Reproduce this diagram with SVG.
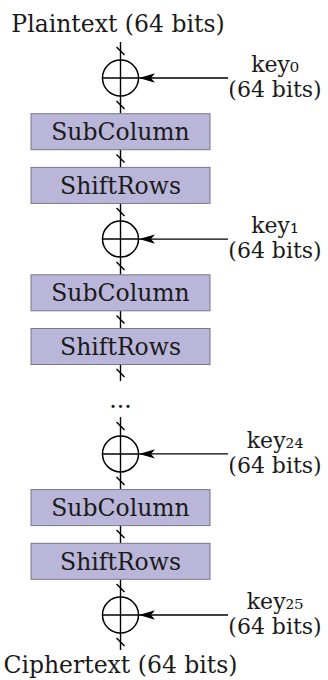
<svg xmlns="http://www.w3.org/2000/svg" width="328" height="680" viewBox="0 0 328 680">
<defs>
<style>
text{font-family:"DejaVu Serif","Liberation Serif",serif;font-size:23.5px;fill:#1a1a1a}
.k{font-size:22px}
.box{fill:#bab6d9;stroke:#77778a;stroke-width:1}
.ln{stroke:#000;stroke-width:1.4;fill:none}
.xor{stroke:#000;stroke-width:1.5;fill:none}
.tk{stroke:#000;stroke-width:1.4}
</style>
<marker id="ah" viewBox="0 0 16 10" markerWidth="16" markerHeight="10" refX="16" refY="5" orient="auto" markerUnits="userSpaceOnUse">
<path d="M16,5 L0,0.3 L4,5 L0,9.7 Z" fill="#000"/>
</marker>
</defs>
<g id="connectors">
<line class="ln" x1="120.5" y1="42" x2="120.5" y2="113.7"/>
<line class="ln" x1="120.5" y1="149.7" x2="120.5" y2="167.4"/>
<line class="ln" x1="120.5" y1="203.4" x2="120.5" y2="274.8"/>
<line class="ln" x1="120.5" y1="310.8" x2="120.5" y2="328.5"/>
<line class="ln" x1="120.5" y1="364.5" x2="120.5" y2="381"/>
<line class="ln" x1="120.5" y1="417" x2="120.5" y2="489.6"/>
<line class="ln" x1="120.5" y1="525.6" x2="120.5" y2="543.3"/>
<line class="ln" x1="120.5" y1="579.3" x2="120.5" y2="650"/>
<g class="tk">
<line x1="116.5" y1="47" x2="124.5" y2="55"/>
<line x1="116.5" y1="101" x2="124.5" y2="109"/>
<line x1="116.5" y1="154.5" x2="124.5" y2="162.5"/>
<line x1="116.5" y1="208" x2="124.5" y2="216"/>
<line x1="116.5" y1="262" x2="124.5" y2="270"/>
<line x1="116.5" y1="315.6" x2="124.5" y2="323.6"/>
<line x1="116.5" y1="369" x2="124.5" y2="377"/>
<line x1="116.5" y1="422" x2="124.5" y2="430"/>
<line x1="116.5" y1="477" x2="124.5" y2="485"/>
<line x1="116.5" y1="530" x2="124.5" y2="538"/>
<line x1="116.5" y1="584" x2="124.5" y2="592"/>
<line x1="116.5" y1="638" x2="124.5" y2="646"/>
</g>
<line class="ln" x1="228" y1="78" x2="139" y2="78" marker-end="url(#ah)"/>
<line class="ln" x1="228" y1="239.1" x2="139" y2="239.1" marker-end="url(#ah)"/>
<line class="ln" x1="228" y1="453.9" x2="139" y2="453.9" marker-end="url(#ah)"/>
<line class="ln" x1="228" y1="615" x2="139" y2="615" marker-end="url(#ah)"/>
</g>
<g id="plaintext"><text x="118" y="32" text-anchor="middle">Plaintext (64 bits)</text></g>
<g id="xor0"><circle class="xor" cx="120.5" cy="78" r="18"/><line class="xor" x1="102.5" y1="78" x2="138.5" y2="78"/></g>
<g id="key0"><text class="k" x="275" y="72" text-anchor="middle">key₀</text><text class="k" x="275" y="97" text-anchor="middle">(64 bits)</text></g>
<g id="subcolumn1"><rect class="box" x="31" y="113.7" width="179" height="36"/><text x="120.5" y="139.5" text-anchor="middle">SubColumn</text></g>
<g id="shiftrows1"><rect class="box" x="31" y="167.4" width="179" height="36"/><text x="120.5" y="193.5" text-anchor="middle">ShiftRows</text></g>
<g id="xor1"><circle class="xor" cx="120.5" cy="239.1" r="18"/><line class="xor" x1="102.5" y1="239.1" x2="138.5" y2="239.1"/></g>
<g id="key1"><text class="k" x="275" y="233" text-anchor="middle">key₁</text><text class="k" x="275" y="258" text-anchor="middle">(64 bits)</text></g>
<g id="subcolumn2"><rect class="box" x="31" y="274.8" width="179" height="36"/><text x="120.5" y="300.5" text-anchor="middle">SubColumn</text></g>
<g id="shiftrows2"><rect class="box" x="31" y="328.5" width="179" height="36"/><text x="120.5" y="354.5" text-anchor="middle">ShiftRows</text></g>
<g id="dots"><text x="120.5" y="408" text-anchor="middle">...</text></g>
<g id="xor24"><circle class="xor" cx="120.5" cy="453.9" r="18"/><line class="xor" x1="102.5" y1="453.9" x2="138.5" y2="453.9"/></g>
<g id="key24"><text class="k" x="275" y="448" text-anchor="middle">key₂₄</text><text class="k" x="275" y="473" text-anchor="middle">(64 bits)</text></g>
<g id="subcolumn3"><rect class="box" x="31" y="489.6" width="179" height="36"/><text x="120.5" y="515.5" text-anchor="middle">SubColumn</text></g>
<g id="shiftrows3"><rect class="box" x="31" y="543.3" width="179" height="36"/><text x="120.5" y="569.5" text-anchor="middle">ShiftRows</text></g>
<g id="xor25"><circle class="xor" cx="120.5" cy="615" r="18"/><line class="xor" x1="102.5" y1="615" x2="138.5" y2="615"/></g>
<g id="key25"><text class="k" x="275" y="609" text-anchor="middle">key₂₅</text><text class="k" x="275" y="634" text-anchor="middle">(64 bits)</text></g>
<g id="ciphertext"><text x="120.5" y="673" text-anchor="middle">Ciphertext (64 bits)</text></g>
</svg>
